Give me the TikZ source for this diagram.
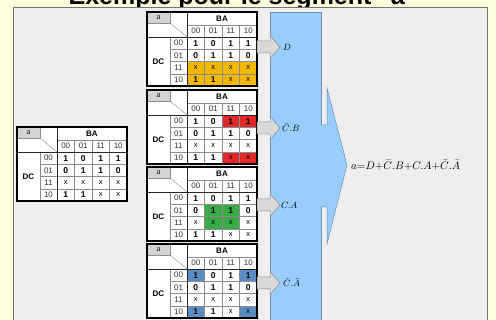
\documentclass[tikz,border=0pt]{standalone}
\usepackage{fontspec}
\setmainfont{Liberation Sans}
\newfontfamily\serifa{Liberation Serif}
\definecolor{bgy}{HTML}{FFFFDD}
\definecolor{panel}{HTML}{EEEEEE}
\definecolor{blk}{HTML}{99CCFF}
\definecolor{blkline}{HTML}{6F8FB0}
\definecolor{hOr}{HTML}{F5B800}
\definecolor{hRd}{HTML}{E02828}
\definecolor{hGr}{HTML}{3AAA48}
\definecolor{hBl}{HTML}{5B8CC4}
\definecolor{acell}{HTML}{D4D4D4}
\definecolor{garr}{HTML}{D9D9D9}
\tikzset{
  gridln/.style={draw=black!45,line width=0.4pt},
  sepln/.style={draw=black!85,line width=0.8pt},
  outerln/.style={draw=black,line width=1.4pt},
  val/.style={font=\fontsize{8.5}{9}\selectfont\bfseries,inner sep=0pt},
  xval/.style={font=\fontsize{7.5}{8}\selectfont,inner sep=0pt},
  lab/.style={font=\fontsize{8}{9}\selectfont,text=black!80,inner sep=0pt},
  hdr/.style={font=\fontsize{8}{9}\selectfont\bfseries,inner sep=0pt},
  acl/.style={font=\fontsize{8.5}{9}\selectfont\serifa,inner sep=0pt},
  garrow/.style={fill=garr,draw=black!45,line width=0.5pt},
  mlab/.style={font=\fontsize{9.5}{10}\selectfont,anchor=west,inner sep=0pt},
}
% #1 x, #2 y, #3 name prefix, #4 highlight colour, #5 highlighted cells r/c
\newcommand\kmap[5]{%
\begin{scope}[shift={(#1,#2)}]
  \fill[white] (0,0) rectangle (110,74);
  \foreach \r/\c in {#5} {\fill[#4] ({40+17.5*\c},{25+12.25*\r}) rectangle ++(17.5,12.25);}
  \fill[acell] (0,0) rectangle (23,11);
  \draw[gridln] (0,0) rectangle (23,11);
  \draw[gridln] (23,11) -- (40,25);
  \foreach \i in {1,2,3} {\draw[gridln] ({40+17.5*\i},13) -- ({40+17.5*\i},74);}
  \draw[gridln] (40,13) -- (110,13);
  \foreach \j in {1,2,3} {\draw[gridln] (23,{25+12.25*\j}) -- (110,{25+12.25*\j});}
  \draw[gridln] (23,25) -- (23,74);
  \draw[sepln] (40,0) -- (40,74);
  \draw[sepln] (0,25) -- (110,25);
  \draw[outerln] (0,0) rectangle (110,74);
  \node[acl] (#3-a) at (11.5,5.5) {a};
  \node[hdr] (#3-BA) at (75,6.5) {BA};
  \node[hdr] (#3-DC) at (11.5,49.5) {DC};
  \foreach \c/\t in {0/00,1/01,2/11,3/10} {\node[lab] (#3-c\c) at ({48.75+17.5*\c},19) {\t};}
  \foreach \r/\t in {0/00,1/01,2/11,3/10} {\node[lab] (#3-r\r) at (31.5,{31.125+12.25*\r}) {\t};}
  \foreach \r/\c/\v in {0/0/1,0/1/0,0/2/1,0/3/1,1/0/0,1/1/1,1/2/1,1/3/0,3/0/1,3/1/1}
    {\node[val] (#3-\r\c) at ({48.75+17.5*\c},{31.125+12.25*\r}) {\v};}
  \foreach \r/\c in {2/0,2/1,2/2,2/3,3/2,3/3}
    {\node[xval] (#3-\r\c) at ({48.75+17.5*\c},{31.125+12.25*\r}) {x};}
\end{scope}}
\newcommand\garrowat[1]{%
  \draw[garrow] (257,#1-6) -- (270,#1-6) -- (270,#1-11.5) -- (280,#1) -- (270,#1+11.5) -- (270,#1+6) -- (257,#1+6) -- cycle;}
\begin{document}
\begin{tikzpicture}[x=1pt,y=-1pt]
\useasboundingbox (0,0) rectangle (496,320);
\clip (0,0) rectangle (496,320);
\fill[bgy] (0,0) rectangle (496,320);
\node[font=\fontsize{25}{25}\selectfont\bfseries,anchor=base,inner sep=0pt] (title) at (243,5) {Exemple pour le segment "a"};
\filldraw[fill=panel,draw=black!55,line width=0.6pt] (13,7) rectangle (487,330);
% blue block and big arrow
\filldraw[fill=blk,draw=blkline,line width=0.5pt] (270,12) rectangle (321,330);
\fill[blk] (320.5,125) -- (327,125) -- (327,88) -- (347,165) -- (327,244) -- (327,207) -- (320.5,207) -- cycle;
\draw[blkline,line width=0.5pt] (321,125) -- (327,125) -- (327,88) -- (347,165) -- (327,244) -- (327,207) -- (321,207);
% tables
\kmap{17}{127}{L}{white}{0/0}
\kmap{147}{12}{T1}{hOr}{2/0,2/1,2/2,2/3,3/0,3/1,3/2,3/3}
\kmap{147}{90}{T2}{hRd}{0/2,0/3,3/2,3/3}
\kmap{147}{167}{T3}{hGr}{1/1,1/2,2/1,2/2}
\kmap{147}{244}{T4}{hBl}{0/0,0/3,3/0,3/3}
% small arrows
\garrowat{47}
\garrowat{128}
\garrowat{205}
\garrowat{283}
\node[mlab] (l1) at (283,47) {$D$};
\node[mlab] (l2) at (282,128) {$\bar{C}.B$};
\node[mlab] (l3) at (281,205) {$C.A$};
\node[mlab] (l4) at (283,283) {$\bar{C}.\bar{A}$};
\node[mlab,font=\fontsize{10.5}{11}\selectfont] (eq) at (351,165) {$a{=}D{+}\bar{C}.B{+}C.A{+}\bar{C}.\bar{A}$};
\end{tikzpicture}
\end{document}
